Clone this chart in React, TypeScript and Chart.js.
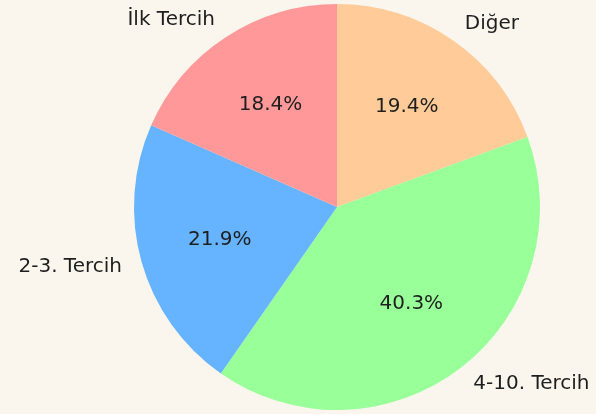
import React, { useEffect, useRef } from "react";
import { Chart, registerables } from "chart.js";

Chart.register(...registerables);

// Clockwise from the top (Chart.js order)
const categories = ["Diğer", "4-10. Tercih", "2-3. Tercih", "İlk Tercih"];
const values = [19.4, 40.3, 21.9, 18.4];
const sliceColors = ["#ffcc99", "#99ff99", "#66b3ff", "#ff9999"];

const BG = "#faf6ee";
const FONT = '20px "DejaVu Sans"';
const TEXT_COLOR = "#1e1e1e";

const pieLabelsPlugin = {
  id: "pieLabels",
  afterDatasetsDraw(chart: any) {
    const ctx = chart.ctx;
    const meta = chart.getDatasetMeta(0);
    const total = values.reduce((a, b) => a + b, 0);
    ctx.save();
    ctx.font = FONT;
    ctx.fillStyle = TEXT_COLOR;
    meta.data.forEach((arc: any, i: number) => {
      const { x, y, startAngle, endAngle, outerRadius } = arc.getProps(
        ["x", "y", "startAngle", "endAngle", "outerRadius"],
        true
      );
      const mid = (startAngle + endAngle) / 2;
      const c = Math.cos(mid);
      const s = Math.sin(mid);
      // outside label
      ctx.textBaseline = "middle";
      ctx.textAlign = c > 0 ? "left" : "right";
      ctx.fillText(categories[i], x + c * outerRadius * 1.1, y + s * outerRadius * 1.1);
      // percentage
      ctx.textAlign = "center";
      const pct = ((values[i] / total) * 100).toFixed(1) + "%";
      ctx.fillText(pct, x + c * outerRadius * 0.6, y + s * outerRadius * 0.6);
    });
    ctx.restore();
  },
};

export default function App() {
  const canvasRef = useRef<HTMLCanvasElement | null>(null);

  useEffect(() => {
    document.body.style.margin = "0";
    document.body.style.background = BG;
    const canvas = canvasRef.current;
    if (!canvas) return;
    const chart = new Chart(canvas, {
      type: "pie",
      data: {
        labels: categories,
        datasets: [
          {
            data: values,
            backgroundColor: sliceColors,
            borderWidth: 0,
            hoverBorderWidth: 0,
            hoverOffset: 0,
            offset: 0,
          } as any,
        ],
      },
      options: {
        responsive: false,
        animation: false,
        events: [],
        layout: { padding: { left: 134, right: 56, top: 4, bottom: 4 } },
        plugins: {
          legend: { display: false },
          tooltip: { enabled: false },
        },
      },
      plugins: [pieLabelsPlugin],
    });
    return () => chart.destroy();
  }, []);

  return (
    <div
      style={{
        position: "absolute",
        left: 0,
        top: 0,
        width: 596,
        height: 414,
        background: BG,
      }}
    >
      <canvas ref={canvasRef} width={596} height={414} />
    </div>
  );
}
